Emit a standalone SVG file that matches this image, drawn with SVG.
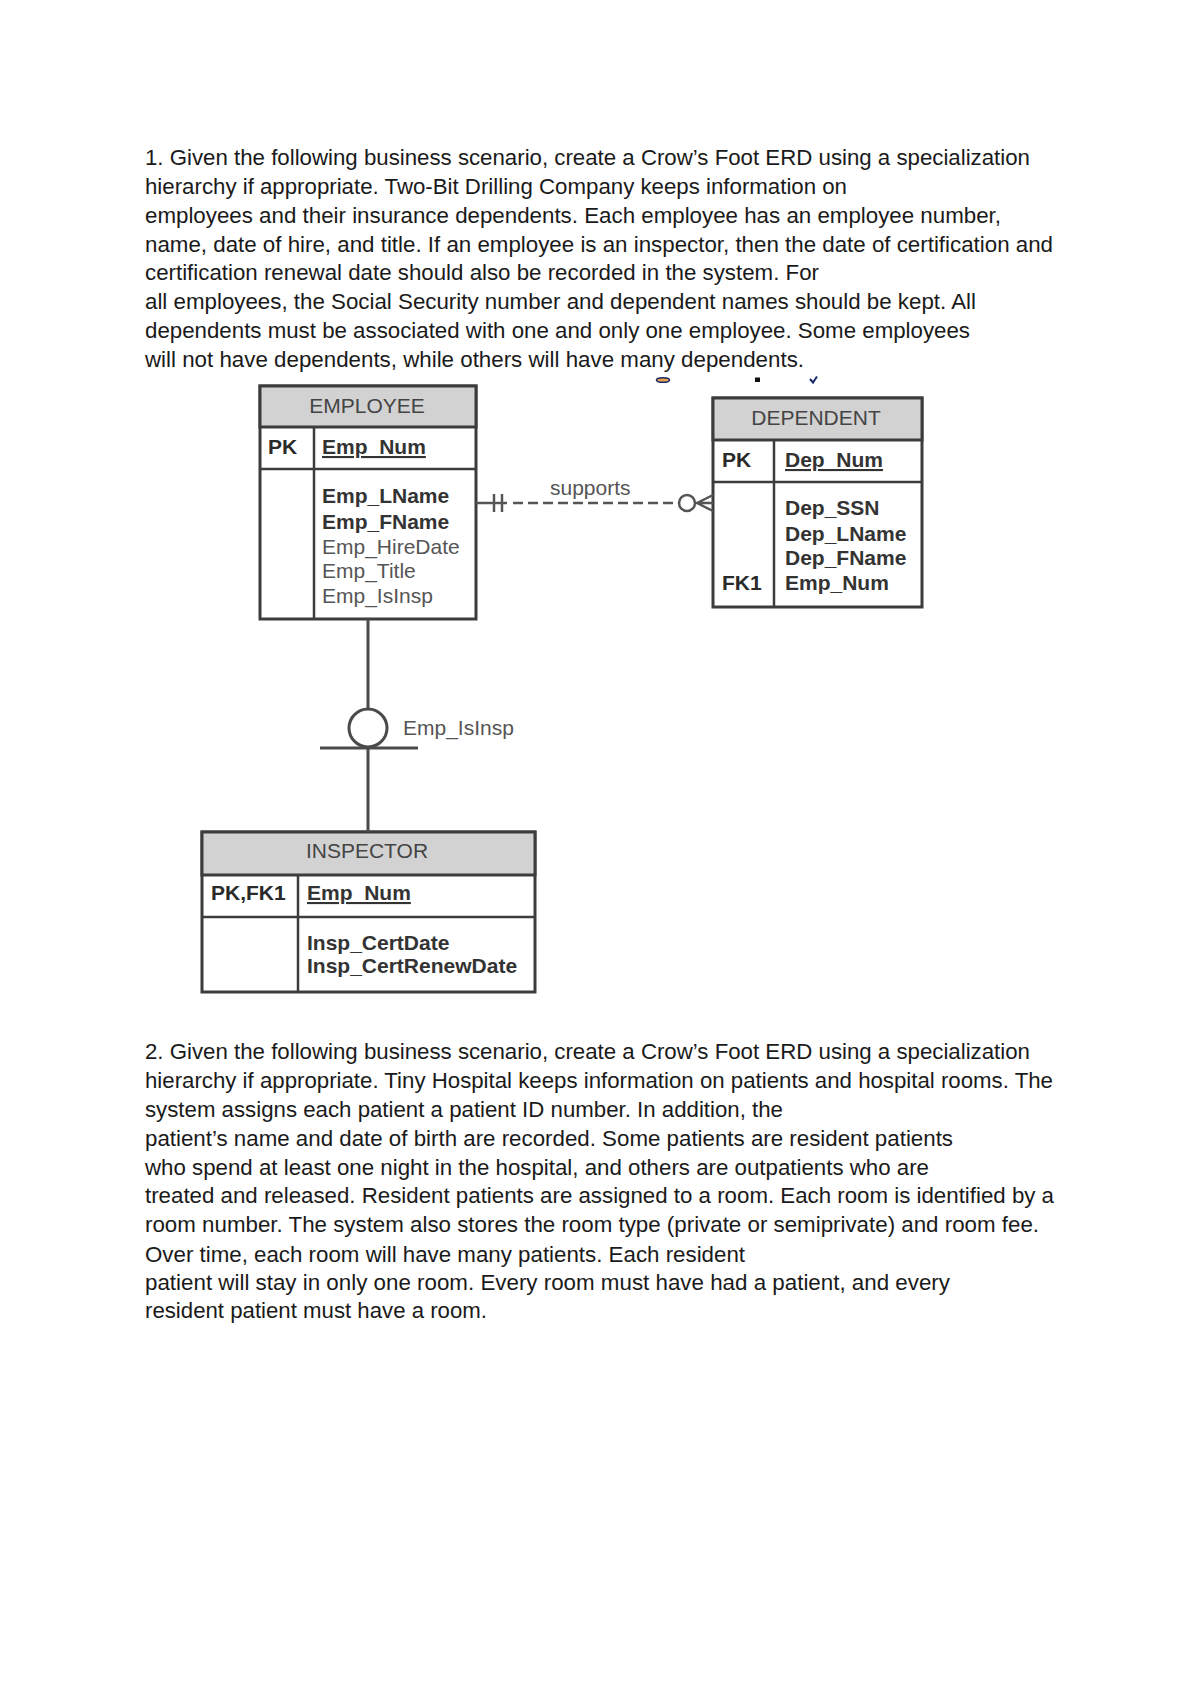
<svg xmlns="http://www.w3.org/2000/svg" width="1200" height="1698" viewBox="0 0 1200 1698">
<style>
.body{font-family:"Liberation Sans",Arial,sans-serif;font-size:22px;fill:#1a1a1a}
.box{fill:#fff;stroke:#3c3c3c;stroke-width:3}
.hdr{fill:#d2d2d2;stroke:#3c3c3c;stroke-width:3}
.div{stroke:#3c3c3c;stroke-width:2.5;fill:none}
.t{font-family:"Liberation Sans",Arial,sans-serif;font-size:21px}
.h{fill:#444;text-anchor:middle}
.k{fill:#2a2a2a;font-weight:bold}
.b{fill:#333;font-weight:bold}
.r{fill:#555}
.u{text-decoration:underline}
.ln{stroke:#4a4a4a;stroke-width:3;fill:none}
.rl{stroke:#555;stroke-width:2.5;fill:none}
.lbl{font-family:"Liberation Sans",Arial,sans-serif;font-size:21px;fill:#555}
</style>
<rect width="1200" height="1698" fill="#fff"/>
<g id="text1">
<text class="body" x="145" y="165" textLength="885" lengthAdjust="spacingAndGlyphs">1. Given the following business scenario, create a Crow’s Foot ERD using a specialization</text>
<text class="body" x="145" y="194" textLength="702" lengthAdjust="spacingAndGlyphs">hierarchy if appropriate. Two-Bit Drilling Company keeps information on</text>
<text class="body" x="145" y="223" textLength="856" lengthAdjust="spacingAndGlyphs">employees and their insurance dependents. Each employee has an employee number,</text>
<text class="body" x="145" y="252" textLength="908" lengthAdjust="spacingAndGlyphs">name, date of hire, and title. If an employee is an inspector, then the date of certification and</text>
<text class="body" x="145" y="280" textLength="674" lengthAdjust="spacingAndGlyphs">certification renewal date should also be recorded in the system. For</text>
<text class="body" x="145" y="309" textLength="831" lengthAdjust="spacingAndGlyphs">all employees, the Social Security number and dependent names should be kept. All</text>
<text class="body" x="145" y="338" textLength="825" lengthAdjust="spacingAndGlyphs">dependents must be associated with one and only one employee. Some employees</text>
<text class="body" x="145" y="367" textLength="659" lengthAdjust="spacingAndGlyphs">will not have dependents, while others will have many dependents.</text>
</g>
<g id="artifacts">
<ellipse cx="663" cy="380" rx="6.5" ry="2.3" fill="#e9a24a" stroke="#1b2a6b" stroke-width="1.6"/>
<rect x="755" y="377.5" width="5" height="4.5" fill="#111"/>
<path d="M810 379 L813 382.5 L817 376.5" stroke="#1b2a6b" stroke-width="2" fill="none"/>
</g>
<g id="employee">
<rect class="box" x="260" y="386" width="216" height="233"/>
<rect class="hdr" x="260" y="386" width="216" height="41"/>
<line class="div" x1="260" y1="469" x2="476" y2="469"/>
<line class="div" x1="314" y1="427" x2="314" y2="619"/>
<text class="t h" x="367" y="413">EMPLOYEE</text>
<text class="t k" x="268" y="454">PK</text>
<text class="t b u" x="322" y="454">Emp_Num</text>
<text class="t b" x="322" y="503">Emp_LName</text>
<text class="t b" x="322" y="529">Emp_FName</text>
<text class="t r" x="322" y="554">Emp_HireDate</text>
<text class="t r" x="322" y="578">Emp_Title</text>
<text class="t r" x="322" y="603">Emp_IsInsp</text>
</g>
<g id="dependent">
<rect class="box" x="713" y="398" width="209" height="209"/>
<rect class="hdr" x="713" y="398" width="209" height="42"/>
<line class="div" x1="713" y1="482" x2="922" y2="482"/>
<line class="div" x1="774" y1="440" x2="774" y2="607"/>
<text class="t h" x="816" y="425">DEPENDENT</text>
<text class="t k" x="722" y="467">PK</text>
<text class="t b u" x="785" y="467">Dep_Num</text>
<text class="t b" x="785" y="515">Dep_SSN</text>
<text class="t b" x="785" y="541">Dep_LName</text>
<text class="t b" x="785" y="565">Dep_FName</text>
<text class="t k" x="722" y="590">FK1</text>
<text class="t b" x="785" y="590">Emp_Num</text>
</g>
<g id="inspector">
<rect class="box" x="202" y="832" width="333" height="160"/>
<rect class="hdr" x="202" y="832" width="333" height="43"/>
<line class="div" x1="202" y1="917" x2="535" y2="917"/>
<line class="div" x1="298" y1="875" x2="298" y2="992"/>
<text class="t h" x="367" y="858">INSPECTOR</text>
<text class="t k" x="211" y="900">PK,FK1</text>
<text class="t b u" x="307" y="900">Emp_Num</text>
<text class="t b" x="307" y="950">Insp_CertDate</text>
<text class="t b" x="307" y="973">Insp_CertRenewDate</text>
</g>
<g id="connectors">
<g id="supports">
<line class="rl" x1="476" y1="503" x2="507" y2="503"/>
<line class="rl" x1="494" y1="494" x2="494" y2="512"/>
<line class="rl" x1="502" y1="494" x2="502" y2="512"/>
<line class="rl" x1="513" y1="503" x2="679" y2="503" stroke-dasharray="10 5"/>
<circle class="rl" cx="687" cy="503" r="8"/>
<path class="rl" d="M695 503 L713 503 M697 503 L713 495 M697 503 L713 511"/>
<text class="lbl" x="550" y="495">supports</text>
</g>
<g id="subtype">
<line class="ln" x1="368" y1="619" x2="368" y2="709"/>
<circle class="ln" cx="368" cy="728" r="19"/>
<line class="ln" x1="320" y1="748" x2="418" y2="748"/>
<line class="ln" x1="368" y1="748" x2="368" y2="832"/>
<text class="lbl" x="403" y="735">Emp_IsInsp</text>
</g>
</g>
<g id="text2">
<text class="body" x="145" y="1059" textLength="885" lengthAdjust="spacingAndGlyphs">2. Given the following business scenario, create a Crow’s Foot ERD using a specialization</text>
<text class="body" x="145" y="1088" textLength="908" lengthAdjust="spacingAndGlyphs">hierarchy if appropriate. Tiny Hospital keeps information on patients and hospital rooms. The</text>
<text class="body" x="145" y="1117" textLength="638" lengthAdjust="spacingAndGlyphs">system assigns each patient a patient ID number. In addition, the</text>
<text class="body" x="145" y="1146" textLength="808" lengthAdjust="spacingAndGlyphs">patient’s name and date of birth are recorded. Some patients are resident patients</text>
<text class="body" x="145" y="1175" textLength="784" lengthAdjust="spacingAndGlyphs">who spend at least one night in the hospital, and others are outpatients who are</text>
<text class="body" x="145" y="1203" textLength="909" lengthAdjust="spacingAndGlyphs">treated and released. Resident patients are assigned to a room. Each room is identified by a</text>
<text class="body" x="145" y="1232" textLength="894" lengthAdjust="spacingAndGlyphs">room number. The system also stores the room type (private or semiprivate) and room fee.</text>
<text class="body" x="145" y="1262" textLength="600" lengthAdjust="spacingAndGlyphs">Over time, each room will have many patients. Each resident</text>
<text class="body" x="145" y="1290" textLength="805" lengthAdjust="spacingAndGlyphs">patient will stay in only one room. Every room must have had a patient, and every</text>
<text class="body" x="145" y="1318" textLength="342" lengthAdjust="spacingAndGlyphs">resident patient must have a room.</text>
</g>
</svg>
